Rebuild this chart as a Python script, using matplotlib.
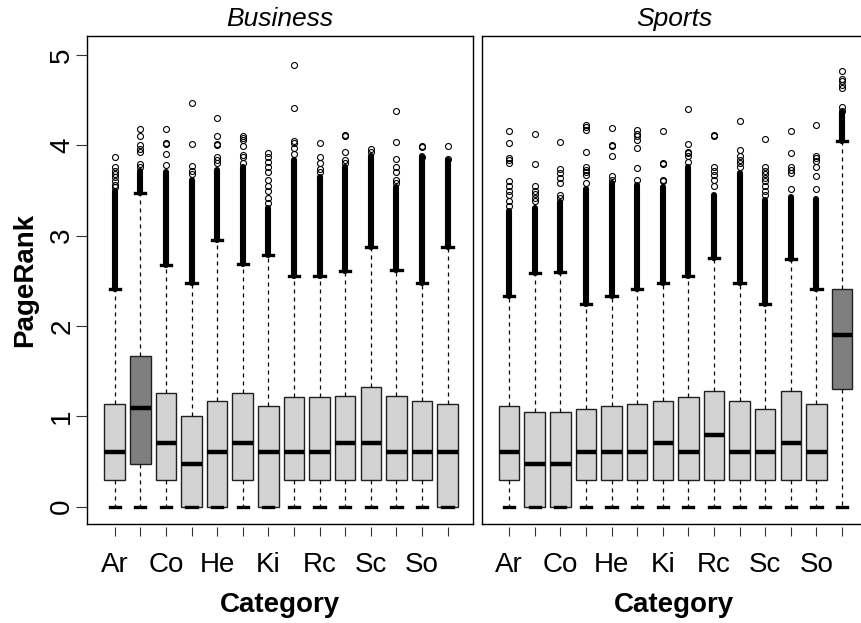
import matplotlib
matplotlib.use("Agg")
import matplotlib.pyplot as plt

plt.rcParams['font.family'] = ['Liberation Sans', 'DejaVu Sans']

# Category abbreviations (every other one is printed on the axis)
categories = ["Ar", "Bu", "Co", "Ga", "He", "Ho", "Ki",
              "Ne", "Rc", "Re", "Sc", "Sh", "So", "Sp"]

# ---- Business panel -------------------------------------------------------
biz_q1 = [0.30, 0.47, 0.30, 0.00, 0.00, 0.30, 0.00, 0.30, 0.30, 0.30, 0.30, 0.30, 0.30, 0.00]
biz_med = [0.60, 1.09, 0.70, 0.47, 0.60, 0.70, 0.60, 0.60, 0.60, 0.70, 0.70, 0.60, 0.60, 0.60]
biz_q3 = [1.14, 1.67, 1.26, 1.00, 1.17, 1.26, 1.11, 1.21, 1.21, 1.23, 1.32, 1.23, 1.17, 1.14]
biz_lo = [0.0] * 14
biz_hi = [2.41, 3.47, 2.68, 2.48, 2.95, 2.69, 2.79, 2.55, 2.55, 2.61, 2.87, 2.62, 2.48, 2.87]
# upper end of the packed run of outliers just above each whisker
biz_dense = [3.49, 3.72, 3.71, 3.62, 3.73, 3.76, 3.31, 3.84, 3.65, 3.76, 3.88, 3.54, 3.88, 3.84]
biz_out = [
    [3.87, 3.76, 3.72, 3.68, 3.65, 3.60, 3.56, 3.54],
    [4.18, 4.10, 4.00, 3.96, 3.93, 3.79, 3.76],
    [4.18, 4.03, 4.02, 3.90, 3.78],
    [4.47, 4.01, 3.77, 3.72, 3.68],
    [4.30, 4.10, 4.02, 4.00, 3.87, 3.84, 3.80],
    [4.10, 4.08, 4.06, 3.99, 3.89, 3.87, 3.81],
    [3.91, 3.87, 3.82, 3.76, 3.70, 3.62, 3.55, 3.50, 3.42, 3.36],
    [4.89, 4.41, 4.05, 4.03, 3.97, 3.90],
    [4.03, 3.87, 3.80, 3.74, 3.70],
    [4.12, 4.10, 3.93, 3.84, 3.80],
    [3.96, 3.93],
    [4.38, 4.04, 3.85, 3.76, 3.70, 3.62, 3.58],
    [3.99, 3.98, 3.87],
    [3.99, 3.85],
]
biz_highlight = "Bu"

# ---- Sports panel ---------------------------------------------------------
spo_q1 = [0.30, 0.00, 0.00, 0.30, 0.30, 0.30, 0.30, 0.30, 0.30, 0.30, 0.30, 0.30, 0.30, 1.30]
spo_med = [0.60, 0.47, 0.47, 0.60, 0.60, 0.60, 0.70, 0.60, 0.79, 0.60, 0.60, 0.70, 0.60, 1.90]
spo_q3 = [1.11, 1.05, 1.05, 1.08, 1.11, 1.14, 1.17, 1.21, 1.28, 1.17, 1.08, 1.28, 1.14, 2.41]
spo_lo = [0.0] * 14
spo_hi = [2.33, 2.59, 2.60, 2.24, 2.33, 2.41, 2.48, 2.55, 2.75, 2.48, 2.24, 2.74, 2.41, 4.05]
spo_dense = [3.27, 3.31, 3.37, 3.52, 3.58, 3.56, 3.54, 3.76, 3.45, 3.69, 3.39, 3.43, 3.41, 4.37]
spo_out = [
    [4.16, 4.03, 3.86, 3.84, 3.80, 3.60, 3.55, 3.50, 3.45, 3.38, 3.33],
    [4.13, 3.79, 3.55, 3.50, 3.46, 3.42, 3.38],
    [4.04, 3.74, 3.69, 3.64, 3.58, 3.45, 3.42],
    [4.22, 4.20, 4.17, 3.93, 3.76, 3.73, 3.70, 3.67, 3.58],
    [4.19, 4.00, 3.99, 3.88, 3.66, 3.62],
    [4.17, 4.13, 4.10, 4.06, 3.97, 3.75, 3.62],
    [4.16, 3.80, 3.79, 3.62, 3.60],
    [4.40, 4.02, 3.93, 3.91, 3.88, 3.82],
    [4.11, 4.10, 3.76, 3.72, 3.67, 3.62, 3.55],
    [4.27, 3.95, 3.88, 3.84, 3.80, 3.76],
    [4.07, 3.76, 3.72, 3.68, 3.64, 3.60, 3.55, 3.50, 3.45],
    [4.16, 3.92, 3.76, 3.73, 3.69, 3.52],
    [4.23, 3.88, 3.86, 3.83, 3.76, 3.66, 3.52],
    [4.82, 4.74, 4.71, 4.67, 4.63, 4.43, 4.38],
]
spo_highlight = "Sp"

yticks = [0, 1, 2, 3, 4, 5]

LIGHT = "#d3d3d3"
DARK = "#7f7f7f"

W, H = 862, 623
fig = plt.figure(figsize=(W / 100, H / 100), dpi=100)
fig.patch.set_facecolor("white")

ax_h = 488.6 / H
ax_b = (H - 524.3) / H
ax_w = 385.4 / W
ax1 = fig.add_axes([87.3 / W, ax_b, ax_w, ax_h])
ax2 = fig.add_axes([481.7 / W, ax_b, ax_w, ax_h])

positions = list(range(1, len(categories) + 1))
shown = [c if i % 2 == 0 else "" for i, c in enumerate(categories)]


def draw_panel(ax, title, q1, med, q3, lo, hi, dense, out, highlight):
    stats = []
    for i, name in enumerate(categories):
        stats.append(dict(label=name, med=med[i], q1=q1[i], q3=q3[i],
                          whislo=lo[i], whishi=hi[i], fliers=out[i]))

    # packed outliers right above the upper whisker
    dl = ax.vlines(positions, hi, dense, colors="black", linewidth=4.4, zorder=2)
    dl.set_capstyle("round")

    art = ax.bxp(stats, positions=positions, widths=0.8, capwidths=0.4,
                 patch_artist=True, showfliers=True,
                 boxprops=dict(edgecolor="#202020", linewidth=1.0),
                 medianprops=dict(color="black", linewidth=3.2, solid_capstyle="butt"),
                 whiskerprops=dict(color="black", linewidth=0.9, linestyle=(0, (3.2, 3.2))),
                 capprops=dict(color="black", linewidth=2.4),
                 flierprops=dict(marker="o", markerfacecolor="none",
                                 markeredgecolor="black", markersize=4.3,
                                 markeredgewidth=0.8),
                 manage_ticks=False, zorder=3)
    for name, box in zip(categories, art["boxes"]):
        box.set_facecolor(DARK if name == highlight else LIGHT)

    ax.set_xlim(-0.07, 14.98)
    ax.set_ylim(-0.195, 5.214)
    for sp in ax.spines.values():
        sp.set_linewidth(1.0)
        sp.set_color("black")
    ax.set_title(title, style="italic", fontsize=19, pad=7)

    ax.tick_params(axis="x", bottom=False, labelbottom=False)
    sec = ax.secondary_xaxis(-2.5 / 488.6)
    sec.set_xticks(positions, labels=shown)
    sec.spines["bottom"].set_visible(False)
    sec.tick_params(axis="x", length=6.5, width=0.8, labelsize=20, pad=12,
                    color="#333333")
    sec.set_xlabel("Category", fontsize=20, fontweight="bold", labelpad=10)


draw_panel(ax1, "Business", biz_q1, biz_med, biz_q3, biz_lo, biz_hi,
           biz_dense, biz_out, biz_highlight)
draw_panel(ax2, "Sports", spo_q1, spo_med, spo_q3, spo_lo, spo_hi,
           spo_dense, spo_out, spo_highlight)

ax1.set_yticks(yticks)
ax1.set_yticklabels([str(t) for t in yticks])
ax1.tick_params(axis="y", length=7.6, width=0.8, pad=1, labelsize=20,
                labelrotation=90, color="#333333")
for lbl in ax1.get_yticklabels():
    lbl.set_va("center")
ax1.set_ylabel("PageRank", fontsize=20, fontweight="bold", labelpad=8)

ax2.tick_params(axis="y", left=False, labelleft=False)

fig.savefig("out.png", dpi=100)
